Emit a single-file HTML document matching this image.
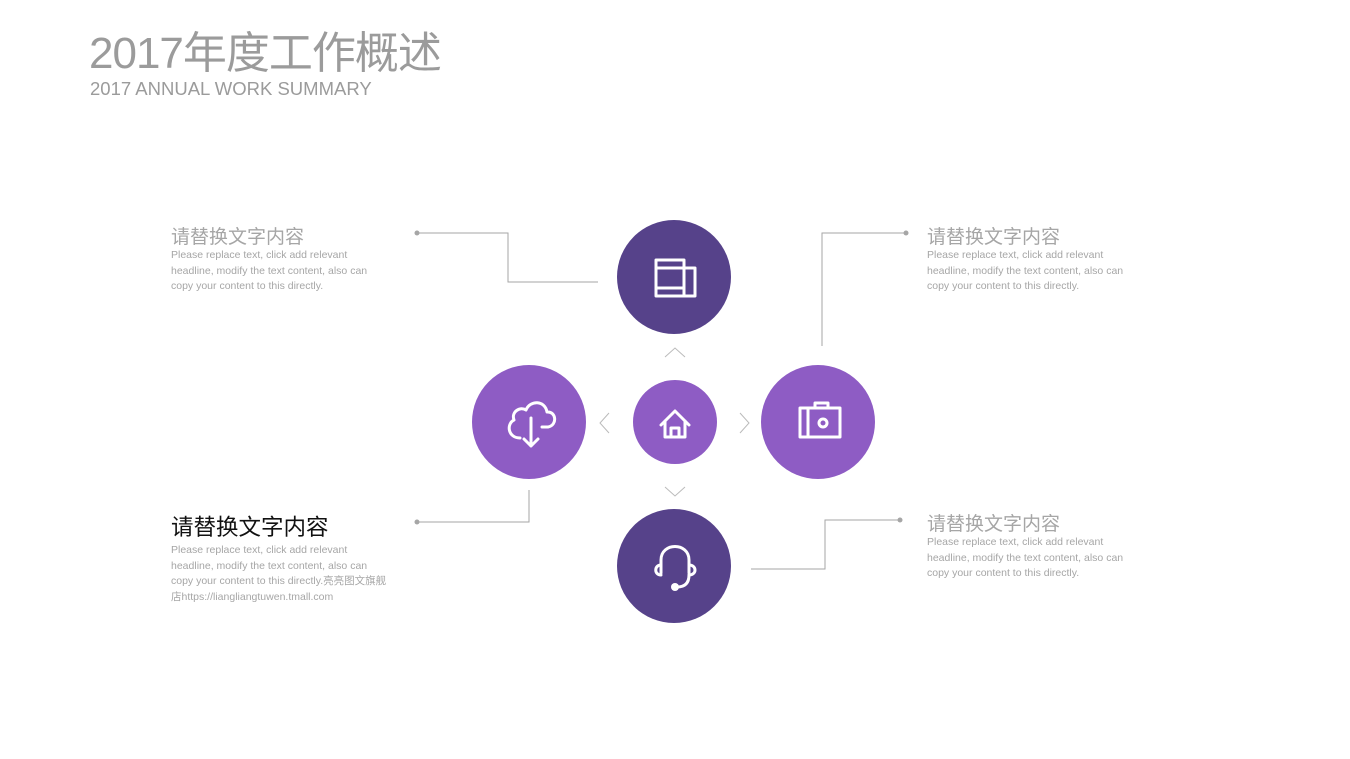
<!DOCTYPE html>
<html><head><meta charset="utf-8"><style>
body{margin:0;width:1350px;height:759px;background:#fff;position:relative;overflow:hidden;font-family:"Liberation Sans","Noto Sans CJK SC",sans-serif}
.a{position:absolute;white-space:nowrap}
.h{font-size:19px;color:#a6a6a6}
.p{font-size:10.5px;color:#a6a6a6;line-height:15.5px}
</style></head><body>
<div class="a" style="left:89px;top:28px;font-size:44px;color:#9b9b9b;letter-spacing:-1px;line-height:52px">2017年度工作概述</div>
<div class="a" style="left:90px;top:79px;font-size:18.5px;color:#9b9b9b;line-height:20px">2017 ANNUAL WORK SUMMARY</div>

<div class="a h" style="left:171px;top:222px">请替换文字内容</div>
<div class="a p" style="left:171px;top:248px">Please replace text, click add relevant<br>headline, modify the text content, also can<br>copy your content to this directly.</div>
<div class="a h" style="left:927px;top:222px">请替换文字内容</div>
<div class="a p" style="left:927px;top:248px">Please replace text, click add relevant<br>headline, modify the text content, also can<br>copy your content to this directly.</div>
<div class="a h" style="left:171px;top:510px;color:#111;font-size:22.5px">请替换文字内容</div>
<div class="a p" style="left:171px;top:543px">Please replace text, click add relevant<br>headline, modify the text content, also can<br>copy your content to this directly.亮亮图文旗舰<br>店https://liangliangtuwen.tmall.com</div>
<div class="a h" style="left:927px;top:509px">请替换文字内容</div>
<div class="a p" style="left:927px;top:535px">Please replace text, click add relevant<br>headline, modify the text content, also can<br>copy your content to this directly.</div>

<svg class="a" style="left:0;top:0" width="1350" height="759">
<g fill="none" stroke="#a6a6a6" stroke-width="1">
<polyline points="417,233 508,233 508,282 598,282"/>
<polyline points="906,233 822,233 822,346"/>
<polyline points="417,522 529,522 529,490"/>
<polyline points="900,520 825,520 825,569 751,569"/>
</g>
<g fill="#a6a6a6"><circle cx="417" cy="233" r="2.5"/><circle cx="906" cy="233" r="2.5"/><circle cx="417" cy="522" r="2.5"/><circle cx="900" cy="520" r="2.5"/></g>
<g fill="none" stroke="#bbb" stroke-width="1">
<polyline points="665,357 675,348 685,357"/>
<polyline points="665,487 675,496 685,487"/>
<polyline points="609,413 600,423 609,433"/>
<polyline points="740,413 749,423 740,433"/>
</g>
<circle cx="674" cy="277" r="57" fill="#56428a"/>
<circle cx="674" cy="566" r="57" fill="#56428a"/>
<circle cx="529" cy="422" r="57" fill="#8e5cc4"/>
<circle cx="818" cy="422" r="57" fill="#8e5cc4"/>
<circle cx="675" cy="422" r="42" fill="#8e5cc4"/>
<g fill="none" stroke="#fff" stroke-width="3" stroke-linecap="round" stroke-linejoin="round">
<rect x="656" y="260" width="28" height="36"/><line x1="656" y1="268" x2="684" y2="268"/><line x1="656" y1="288" x2="684" y2="288"/>
<polyline points="684,268 695,268 695,296 684,296"/>
<path d="M800,408 H840 V437 H800 Z M808,408 V437"/><circle cx="823" cy="423" r="4"/><path d="M815,408 V403 H828 V408"/>
<path d="M661,425 L675,411 L689,425 M665,421 V437 H685 V421 M671,437 V428 H679 V437"/>
<path d="M520,438 C508,438 506,424 514,420 C511,412 520,406 526,410 C530,400 545,400 547,412 C556,411 558,425 548,427 L542,427"/>
<path d="M531,418 V446 M524,439 L531,446 L538,439"/>
<path d="M661,573 V560 C661,542 689,542 689,560 V573"/><path d="M661,565 C654,565 654,575 661,575 M689,565 C697,565 697,575 689,575"/><path d="M689,575 C689,584 684,587 677,587"/>
</g>
<circle cx="675" cy="587" r="4" fill="#fff"/>
</svg>
</body></html>
